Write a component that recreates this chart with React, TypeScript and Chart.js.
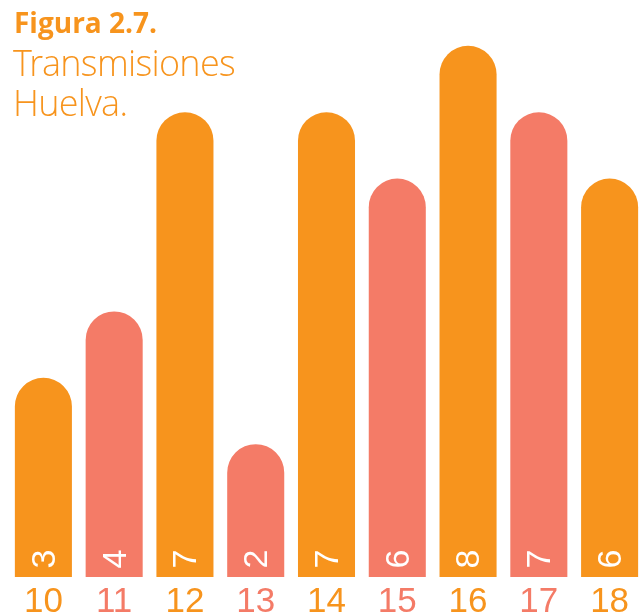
import React, { useEffect, useRef } from "react";
import { Chart, registerables } from "chart.js";
Chart.register(...registerables);

const categories = ["10", "11", "12", "13", "14", "15", "16", "17", "18"];
const values = [3, 4, 7, 2, 7, 6, 8, 7, 6];
const ORANGE = "#F7941D";
const SALMON = "#F47B67";
const barColors = [ORANGE, SALMON, ORANGE, SALMON, ORANGE, SALMON, ORANGE, SALMON, ORANGE];

const valueLabelPlugin = {
  id: "valueLabels",
  afterDatasetsDraw(chart: any) {
    const ctx = chart.ctx;
    const meta = chart.getDatasetMeta(0);
    const ds = chart.data.datasets[0];
    ctx.save();
    ctx.fillStyle = "#FFFFFF";
    ctx.font = "34px 'Liberation Sans', Arial, sans-serif";
    ctx.textAlign = "center";
    ctx.textBaseline = "middle";
    meta.data.forEach((bar: any, i: number) => {
      const cx = bar.x;
      const cy = bar.base - 18;
      ctx.save();
      ctx.translate(cx, cy);
      ctx.rotate(-Math.PI / 2);
      ctx.fillText(String(ds.data[i]), 0, 2);
      ctx.restore();
    });
    ctx.restore();
  },
};

export default function App() {
  const ref = useRef<HTMLCanvasElement | null>(null);
  useEffect(() => {
    document.body.style.margin = "0";
    document.body.style.overflow = "hidden";
    if (!ref.current) return;
    const chart = new Chart(ref.current, {
      type: "bar",
      data: {
        labels: categories,
        datasets: [
          {
            data: values,
            backgroundColor: barColors,
            borderRadius: 29,
            borderSkipped: "start",
            categoryPercentage: 1,
            barPercentage: 0.806,
          },
        ],
      },
      options: {
        responsive: false,
        animation: false,
        devicePixelRatio: 1,
        layout: { padding: { left: 8, right: 0, top: 0, bottom: 0 } },
        plugins: { legend: { display: false }, tooltip: { enabled: false } },
        scales: {
          y: { display: false, min: 0, max: 8.69 },
          x: {
            grid: { display: false, drawTicks: false },
            border: { display: false },
            ticks: {
              autoSkip: false,
              maxRotation: 0,
              padding: 4,
              color: (c: any) => barColors[c.index],
              font: { size: 35, family: "'Liberation Sans', Arial, sans-serif" },
            },
            afterFit: (axis: any) => {
              axis.height = 39;
            },
          },
        },
      },
      plugins: [valueLabelPlugin],
    });
    return () => chart.destroy();
  }, []);

  const titleFont = "'Open Sans', 'Noto Sans', sans-serif";
  const lightFont = "'Open Sans Light', 'Open Sans', 'Noto Sans', sans-serif";
  return (
    <div style={{ position: "relative", width: 641, height: 616, overflow: "hidden", background: "#fff" }}>
      <div style={{ position: "absolute", left: 0, top: 0, width: 645, height: 616 }}>
        <canvas ref={ref} width={645} height={616} />
      </div>
      <div
        style={{
          position: "absolute",
          left: 14,
          top: 8,
          fontFamily: titleFont,
          fontWeight: 700,
          fontSize: 28,
          lineHeight: "28px",
          color: ORANGE,
          whiteSpace: "nowrap",
        }}
      >
        Figura 2.7.
      </div>
      <div
        style={{
          position: "absolute",
          left: 13,
          top: 43,
          fontFamily: lightFont,
          fontWeight: 300,
          fontSize: 36,
          lineHeight: "40px",
          letterSpacing: "-0.7px",
          color: ORANGE,
          whiteSpace: "nowrap",
        }}
      >
        Transmisiones
        <br />
        Huelva.
      </div>
    </div>
  );
}
